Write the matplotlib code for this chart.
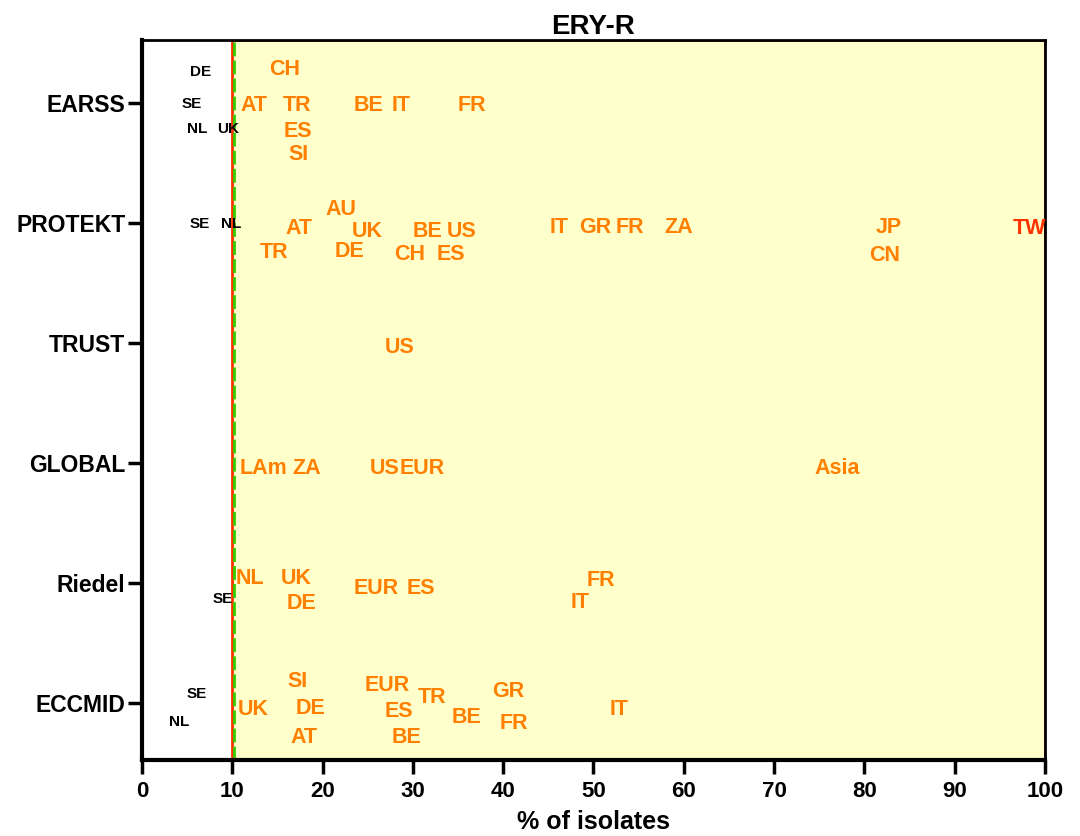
import numpy as np
import matplotlib
matplotlib.use("Agg")
import matplotlib.pyplot as plt

plt.rcParams['font.family'] = ['Liberation Sans', 'DejaVu Sans']
plt.rcParams['font.weight'] = 'bold'

# ==========================================
# data: study rows, then per study country / % resistant / vertical jitter
# ==========================================
studies = ['EARSS', 'PROTEKT', 'TRUST', 'GLOBAL', 'Riedel', 'ECCMID']

earss_names = ['DE', 'CH', 'SE', 'AT', 'TR', 'BE', 'IT', 'FR', 'NL', 'UK', 'ES', 'SI']
earss_vals = [6.5, 15.8, 5.5, 12.4, 17.2, 25.1, 28.7, 36.5, 6.1, 9.5, 17.3, 17.3]
earss_jit = [0.27, 0.30, 0.0, 0.0, 0.0, 0.0, 0.0, 0.0, -0.21, -0.21, -0.22, -0.41]

protekt_names = ['AU', 'SE', 'NL', 'AT', 'UK', 'BE', 'US', 'IT', 'GR', 'FR', 'ZA', 'JP', 'TW',
                 'TR', 'DE', 'CH', 'ES', 'CN']
protekt_vals = [22.0, 6.4, 9.9, 17.4, 25.0, 31.6, 35.4, 46.2, 50.2, 54.0, 59.4, 82.7, 98.3,
                14.6, 23.0, 29.6, 34.2, 82.2]
protekt_jit = [0.13, 0.0, 0.0, -0.03, -0.05, -0.05, -0.05, -0.02, -0.02, -0.02, -0.02, -0.02, -0.03,
               -0.23, -0.22, -0.24, -0.24, -0.25]

trust_names = ['US']
trust_vals = [28.5]
trust_jit = [-0.02]

global_names = ['LAm', 'ZA', 'US', 'EUR', 'Asia']
global_vals = [13.4, 18.2, 26.9, 31.0, 77.0]
global_jit = [-0.02, -0.02, -0.02, -0.02, -0.02]

riedel_names = ['NL', 'UK', 'SE', 'DE', 'EUR', 'ES', 'FR', 'IT']
riedel_vals = [12.0, 17.1, 8.9, 17.7, 25.9, 30.9, 50.8, 48.5]
riedel_jit = [0.06, 0.06, -0.12, -0.15, -0.02, -0.02, 0.04, -0.14]

eccmid_names = ['SI', 'SE', 'EUR', 'GR', 'TR', 'UK', 'DE', 'ES', 'IT', 'BE', 'FR', 'NL', 'AT', 'BE']
eccmid_vals = [17.2, 6.1, 27.1, 40.6, 32.1, 12.3, 18.7, 28.5, 52.8, 35.9, 41.2, 4.1, 17.9, 29.3]
eccmid_jit = [0.20, 0.09, 0.17, 0.12, 0.07, -0.03, -0.02, -0.05, -0.03, -0.10, -0.15, -0.14, -0.26, -0.26]

rows = [
    (earss_names, earss_vals, earss_jit),
    (protekt_names, protekt_vals, protekt_jit),
    (trust_names, trust_vals, trust_jit),
    (global_names, global_vals, global_jit),
    (riedel_names, riedel_vals, riedel_jit),
    (eccmid_names, eccmid_vals, eccmid_jit),
]

threshold = 10
xticks = np.arange(0, 101, 10)

# ==========================================
# plot
# ==========================================
fig = plt.figure(figsize=(10.8, 8.36), dpi=100)
ax = fig.add_axes([0.1315, 0.091, 0.836, 0.861])

ax.axvspan(threshold, 100, facecolor='#FFFFCC', edgecolor='#FF3300', linewidth=2, zorder=0)
ax.axvline(threshold + 0.15, color='#33CC00', linestyle=(0, (5, 1.5)), linewidth=2, zorder=1)

ypos = np.arange(len(studies), 0, -1)
for y, (names, vals, jit) in zip(ypos, rows):
    for name, v, j in zip(names, vals, jit):
        if v < threshold:
            col, fs = 'black', 11
        elif v > 90:
            col, fs = '#FF3300', 15.5
        else:
            col, fs = '#FF8000', 15.5
        ax.text(v, y + j, name, color=col, fontsize=fs, fontweight='bold',
                ha='center', va='center_baseline', zorder=3)

ax.set_xlim(0, 100)
ax.set_ylim(0.53, 6.52)
ax.set_xticks(xticks)
ax.set_xticklabels([str(t) for t in xticks], fontsize=16, fontweight='bold')
ax.set_yticks(ypos)
ax.set_yticklabels(studies, fontsize=16.5, fontweight='bold')
ax.tick_params(axis='both', length=10, width=2.5, direction='out')
ax.tick_params(axis='y', pad=2)
ax.tick_params(axis='x', pad=5)

for side in ['left', 'bottom']:
    ax.spines[side].set_linewidth(3)
for side in ['top', 'right']:
    ax.spines[side].set_linewidth(2)

ax.set_title('ERY-R', fontsize=20, fontweight='bold', pad=4)
ax.set_xlabel('% of isolates', fontsize=18, fontweight='bold', labelpad=6)

fig.savefig('out.png', dpi=100)
